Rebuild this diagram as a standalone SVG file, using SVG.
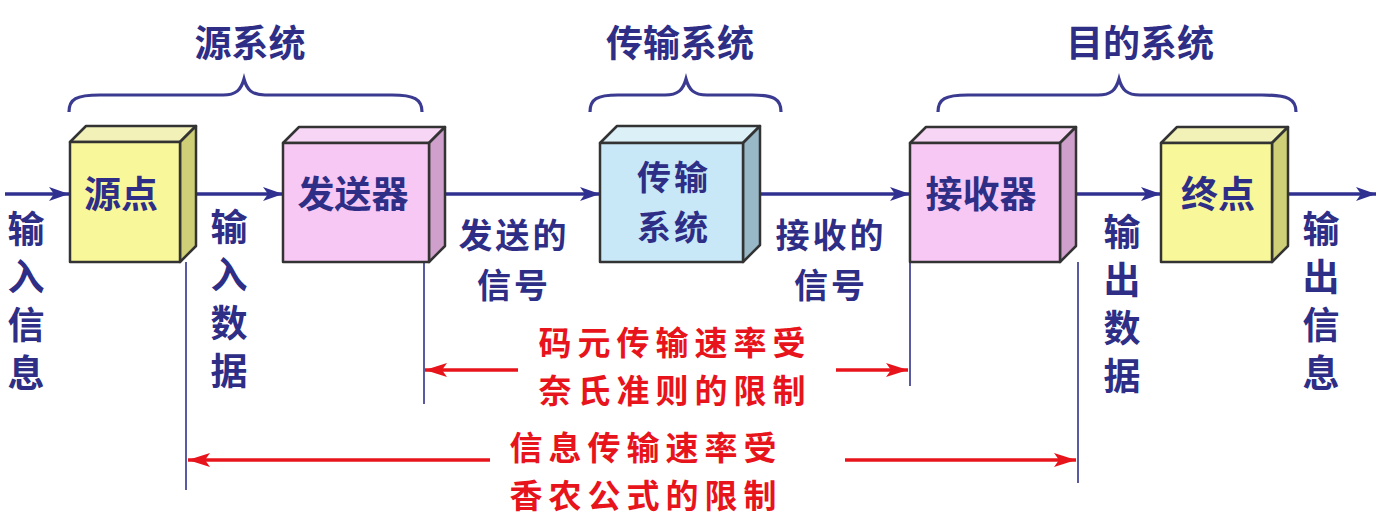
<svg xmlns="http://www.w3.org/2000/svg" width="1388" height="525" viewBox="0 0 1388 525">
<style>
.t{font-family:"Noto Sans CJK SC","Noto Sans",sans-serif;font-weight:bold;fill:#2e2e86;font-size:37px;text-anchor:middle}
.t2{font-family:"Noto Sans CJK SC","Noto Sans",sans-serif;font-weight:bold;fill:#2e2e86;font-size:34px;text-anchor:middle;letter-spacing:3px}
.v{font-family:"Noto Sans CJK SC","Noto Sans",sans-serif;font-weight:bold;fill:#2e2e86;font-size:37px;text-anchor:middle;writing-mode:vertical-rl;letter-spacing:11px}
.r{font-family:"Noto Sans CJK SC","Noto Sans",sans-serif;font-weight:bold;fill:#e8141c;font-size:33px;text-anchor:middle;letter-spacing:6px}
.edge{stroke:#303090;stroke-width:3.5;fill:none}
.vl{stroke:#5a5aa0;stroke-width:2;fill:none}
.red{stroke:#e8141c;stroke-width:3.5;fill:none}
.brace{stroke:#3a3a90;stroke-width:3.2;fill:none}
.bx{stroke:#333;stroke-width:2.5;stroke-linejoin:round}
.y1{fill:#f8f89a}.y2{fill:#f2f2b8}.y3{fill:#cfcf78}
.p1{fill:#f8c8f4}.p2{fill:#f6d6f4}.p3{fill:#d0a0cc}
.b1{fill:#c8e8f8}.b2{fill:#dcf0f8}.b3{fill:#98b8c8}
</style>
<defs>
<marker id="ah" viewBox="0 0 20 14" refX="20" refY="7" markerWidth="20" markerHeight="14" markerUnits="userSpaceOnUse" orient="auto"><path d="M0,0 L20,7 L0,14 L5,7 Z" fill="#303090"/></marker>
<marker id="rh" viewBox="0 0 22 14" refX="22" refY="7" markerWidth="22" markerHeight="14" markerUnits="userSpaceOnUse" orient="auto"><path d="M0,0 L22,7 L0,14 L5,7 Z" fill="#e8141c"/></marker>
</defs>
<rect width="1388" height="525" fill="#fff"/>

<g id="braces">
<path class="brace" d="M69,112 C69,99 76,95 100,95 L223,95 C236,95 241,90 244,79 C247,90 252,95 265,95 L392,95 C414,95 422,99 422,112"/>
<path class="brace" d="M590,112 C590,99 597,95 618,95 L665,95 C678,95 683,90 686,79 C689,90 694,95 707,95 L752,95 C774,95 781,99 781,112"/>
<path class="brace" d="M938,112 C938,99 945,95 968,95 L1098,95 C1111,95 1116,90 1119,79 C1122,90 1127,95 1140,95 L1262,95 C1288,95 1296,99 1296,112"/>
<text class="t" x="250" y="57">源系统</text>
<text class="t" x="680" y="57">传输系统</text>
<text class="t" x="1140" y="57">目的系统</text>
</g>

<g id="connectors">
<line class="edge" x1="5" y1="194" x2="69" y2="194" marker-end="url(#ah)"/>
<line class="edge" x1="187" y1="194" x2="283" y2="194" marker-end="url(#ah)"/>
<line class="edge" x1="436" y1="194" x2="600" y2="194" marker-end="url(#ah)"/>
<line class="edge" x1="750" y1="194" x2="910" y2="194" marker-end="url(#ah)"/>
<line class="edge" x1="1068" y1="194" x2="1161" y2="194" marker-end="url(#ah)"/>
<line class="edge" x1="1280" y1="194" x2="1376" y2="194" marker-end="url(#ah)"/>
<line class="vl" x1="186" y1="262" x2="186" y2="490"/>
<line class="vl" x1="424" y1="262" x2="424" y2="404"/>
<line class="vl" x1="910" y1="262" x2="910" y2="386"/>
<line class="vl" x1="1078" y1="262" x2="1078" y2="483"/>
<line class="red" x1="518" y1="370" x2="425" y2="370" marker-end="url(#rh)"/>
<line class="red" x1="836" y1="370" x2="908" y2="370" marker-end="url(#rh)"/>
<line class="red" x1="490" y1="460" x2="188" y2="460" marker-end="url(#rh)"/>
<line class="red" x1="845" y1="460" x2="1076" y2="460" marker-end="url(#rh)"/>
</g>

<g id="n-yuandian">
<polygon class="bx y2" points="70,142 86,126 196,126 180,142"/>
<polygon class="bx y3" points="180,142 196,126 196,246 180,262"/>
<rect class="bx y1" x="70" y="142" width="110" height="120"/>
<text class="t" x="121" y="208">源点</text>
</g>
<g id="n-fasongqi">
<polygon class="bx p2" points="283,143 299,127 445,127 429,143"/>
<polygon class="bx p3" points="429,143 445,127 445,246 429,262"/>
<rect class="bx p1" x="283" y="143" width="146" height="119"/>
<text class="t" x="353" y="208">发送器</text>
</g>
<g id="n-chuanshu">
<polygon class="bx b2" points="600,143 617,126 760,126 743,143"/>
<polygon class="bx b3" points="743,143 760,126 760,245 743,262"/>
<rect class="bx b1" x="600" y="143" width="143" height="119"/>
<text class="t2" x="674" y="190">传输</text>
<text class="t2" x="674" y="240">系统</text>
</g>
<g id="n-jieshouqi">
<polygon class="bx p2" points="910,143 926,127 1076,127 1060,143"/>
<polygon class="bx p3" points="1060,143 1076,127 1076,246 1060,262"/>
<rect class="bx p1" x="910" y="143" width="150" height="119"/>
<text class="t" x="981" y="208">接收器</text>
</g>
<g id="n-zhongdian">
<polygon class="bx y2" points="1161,143 1177,127 1288,127 1272,143"/>
<polygon class="bx y3" points="1272,143 1288,127 1288,246 1272,262"/>
<rect class="bx y1" x="1161" y="143" width="111" height="119"/>
<text class="t" x="1218" y="208">终点</text>
</g>

<g id="labels">
<text class="v" x="26" y="306">输入信息</text>
<text class="v" x="229" y="304">输入数据</text>
<text class="t2" x="514" y="248">发送的</text>
<text class="t2" x="514" y="298">信号</text>
<text class="t2" x="831" y="248">接收的</text>
<text class="t2" x="831" y="298">信号</text>
<text class="v" x="1122" y="309">输出数据</text>
<text class="v" x="1321" y="306">输出信息</text>
<text class="r" x="675" y="355">码元传输速率受</text>
<text class="r" x="675" y="403">奈氏准则的限制</text>
<text class="r" x="646" y="460">信息传输速率受</text>
<text class="r" x="646" y="508">香农公式的限制</text>
</g>
</svg>
